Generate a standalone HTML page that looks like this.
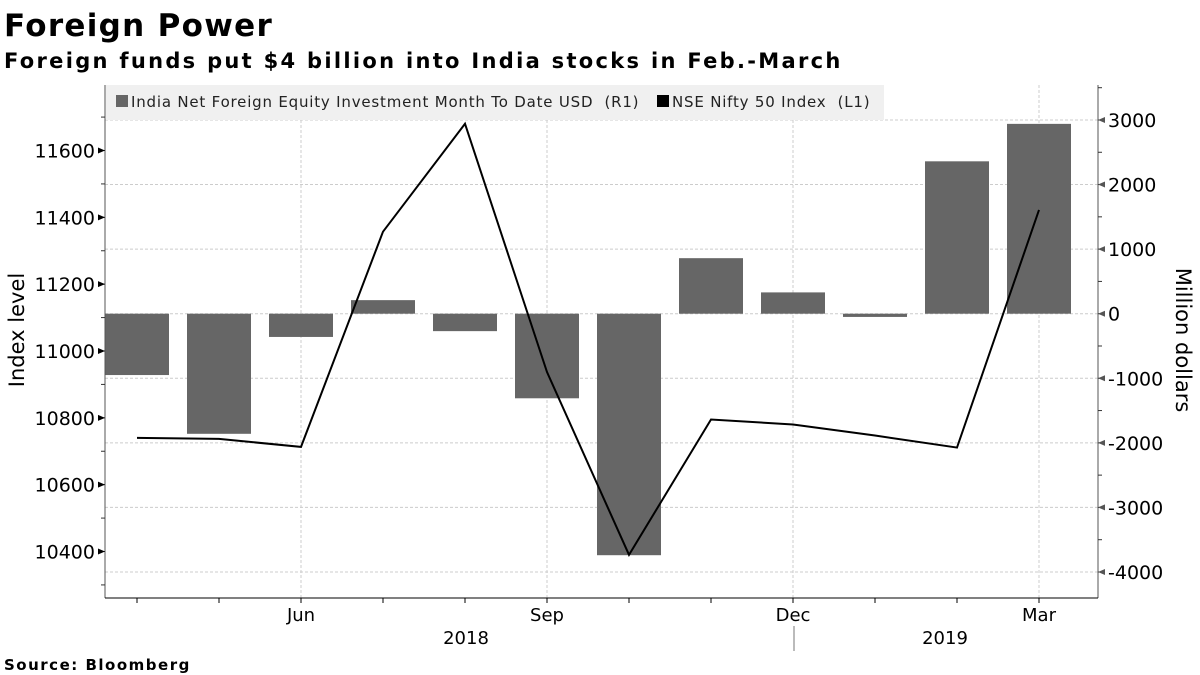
<!DOCTYPE html>
<html><head><meta charset="utf-8"><style>
body{margin:0;background:#fff;font-family:"DejaVu Sans","Liberation Sans",sans-serif;}
svg{display:block}
</style></head><body>
<svg width="1200" height="675" font-family="DejaVu Sans, Liberation Sans, sans-serif">
<text x="4" y="36" font-size="31" font-weight="bold" fill="#000" letter-spacing="1.3">Foreign Power</text>
<text x="4" y="68" font-size="21" font-weight="bold" fill="#000" letter-spacing="2.3">Foreign funds put $4 billion into India stocks in Feb.-March</text>
<text x="4" y="670" font-size="15" font-weight="bold" fill="#000" letter-spacing="1.5">Source: Bloomberg</text>
<g id="grid"></g>
<rect x="106" y="85" width="778" height="35" fill="#f0f0f0"/>
<g id="bars"></g>
<polyline id="line" fill="none" stroke="#000" stroke-width="2"/>
<g id="axes"></g>
<g>
<rect x="116" y="95" width="12" height="12" fill="#666"/>
<text x="131" y="107" font-size="15" fill="#222" letter-spacing="0.8" xml:space="preserve">India Net Foreign Equity Investment Month To Date USD  (R1)</text>
<rect x="657" y="95" width="12" height="12" fill="#000"/>
<text x="672" y="107" font-size="15" fill="#222" letter-spacing="0.8" xml:space="preserve">NSE Nifty 50 Index  (L1)</text>
</g>
<text transform="translate(24,330) rotate(-90)" text-anchor="middle" font-size="21" fill="#000">Index level</text>
<text transform="translate(1176,340) rotate(90)" text-anchor="middle" font-size="21" fill="#000">Million dollars</text>
</svg>
<script>
const months=["Apr","May","Jun","Jul","Aug","Sep","Oct","Nov","Dec","Jan","Feb","Mar"];
const flows=[-950,-1860,-360,210,-270,-1310,-3740,860,330,-50,2360,2940];
const nifty=[10740,10737,10713,11357,11680,10937,10390,10795,10780,10747,10711,11422];
const leftTicks=[10400,10600,10800,11000,11200,11400,11600];
const rightTicks=[-4000,-3000,-2000,-1000,0,1000,2000,3000];
const labeledMonths=["Jun","Sep","Dec","Mar"];
const NS="http://www.w3.org/2000/svg";
const X0=105,X1=1098,Y1=598;
const xs=i=>137+82*i;
const yL=v=>351-(v-11000)*401/1200;
const yR=v=>313.7-v*452/7000;
function mk(tag,attrs,parent){const e=document.createElementNS(NS,tag);for(const k in attrs)e.setAttribute(k,attrs[k]);parent.appendChild(e);return e;}
const grid=document.getElementById('grid'),bars=document.getElementById('bars'),axes=document.getElementById('axes');
rightTicks.forEach(v=>{const l=mk('line',{x1:X0,x2:X1,y1:yR(v),y2:yR(v),stroke:'#ccc','stroke-dasharray':'3,2'},grid);

});
months.forEach((m,i)=>{if(labeledMonths.includes(m)){const l=mk('line',{x1:xs(i),x2:xs(i),y1:85,y2:Y1,stroke:'#ccc','stroke-dasharray':'3,2'},grid);

}});
flows.forEach((v,i)=>{const y0=yR(0),y=yR(v);const r=mk('rect',{x:xs(i)-32,width:64,y:Math.min(y0,y),height:Math.abs(y-y0),fill:'#666'},bars);

});
document.getElementById('line').setAttribute('points',nifty.map((v,i)=>xs(i)+','+yL(v)).join(' '));
mk('line',{x1:X0,x2:X0,y1:85,y2:Y1,stroke:'#555'},axes);
mk('line',{x1:X1,x2:X1,y1:85,y2:Y1,stroke:'#555'},axes);
mk('line',{x1:X0,x2:X1,y1:Y1,y2:Y1,stroke:'#000'},axes);
for(let v=10300;v<=11800;v+=100){const y=yL(v);if(y<85)continue;mk('line',{x1:X0-4,x2:X0,y1:y,y2:y,stroke:'#333'},axes);}
leftTicks.forEach(v=>{const y=yL(v);mk('path',{d:`M${X0-7} ${y-3}L${X0} ${y}L${X0-7} ${y+3}Z`,fill:'#000'},axes);
const t=mk('text',{x:X0-10,y:y+7,'text-anchor':'end','font-size':19,fill:'#000'},axes);t.textContent=v;

});
for(let v=-4500;v<=3500;v+=500){const y=yR(v);if(y<85||y>Y1)continue;mk('line',{x1:X1,x2:X1+4,y1:y,y2:y,stroke:'#333'},axes);}
rightTicks.forEach(v=>{const y=yR(v);mk('path',{d:`M${X1+7} ${y-3}L${X1} ${y}L${X1+7} ${y+3}Z`,fill:'#555'},axes);
const t=mk('text',{x:X1+10,y:y+7,'font-size':19,fill:'#000'},axes);t.textContent=v;

});
months.forEach((m,i)=>{mk('line',{x1:xs(i),x2:xs(i),y1:Y1,y2:Y1+5,stroke:'#000'},axes);
if(labeledMonths.includes(m)){const t=mk('text',{x:xs(i),y:621,'text-anchor':'middle','font-size':18,fill:'#000'},axes);t.textContent=m;

}});
mk('line',{x1:794,x2:794,y1:626,y2:651,stroke:'#777'},axes);
[["2018",466],["2019",945]].forEach(([s,x])=>{const t=mk('text',{x:x,y:644,'text-anchor':'middle','font-size':18,fill:'#000'},axes);t.textContent=s;

});
</script>
</body></html>
